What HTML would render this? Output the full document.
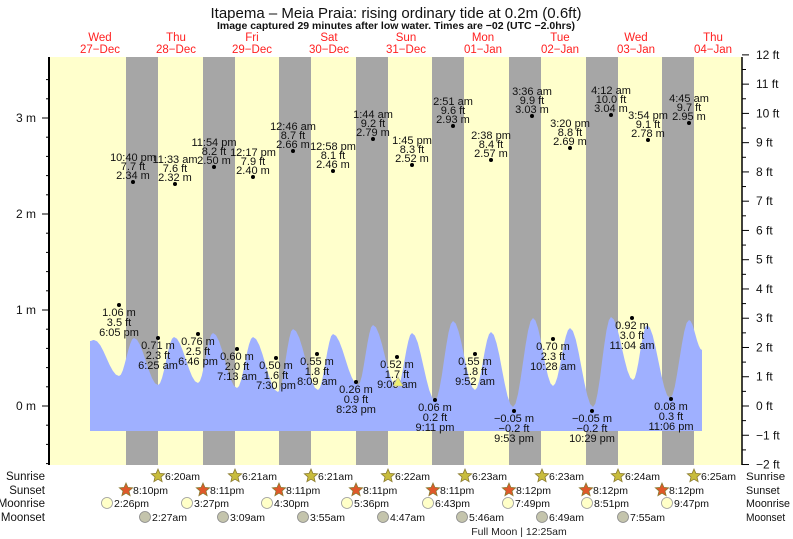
<!DOCTYPE html>
<html><head><meta charset="utf-8"><style>
html,body{margin:0;padding:0;background:#fff;}
svg{display:block;font-family:"Liberation Sans",Arial,sans-serif;}
</style></head><body>
<svg id="s" width="793" height="539" viewBox="0 0 793 539" xmlns="http://www.w3.org/2000/svg">
<rect x="0" y="0" width="793" height="539" fill="#fff"/>
<rect x="49" y="57" width="693" height="408" fill="#ffffcc"/>
<g id="bands" fill="#a6a6a6"></g>
<path id="tide" fill="#9fb0ff"/>
<g id="axes" stroke="#000" fill="none"></g>
<g id="txt" font-size="11" fill="#111"></g>
<text x="396" y="18" font-size="15" text-anchor="middle" fill="#111">Itapema – Meia Praia: rising  ordinary tide at 0.2m (0.6ft)</text>
<text x="396" y="29" font-size="10.5" font-weight="bold" text-anchor="middle" fill="#111">Image captured 29 minutes after low water. Times are −02 (UTC −2.0hrs)</text>
<text x="519" y="535" font-size="10.5" text-anchor="middle" fill="#222">Full Moon | 12:25am</text>
<polygon points="398,377 393,386 403,386" fill="#f0f070" stroke="#aaa" stroke-width="0.6"/>
</svg>
<script>
const NS="http://www.w3.org/2000/svg";
function el(p,t,a,txt){const e=document.createElementNS(NS,t);for(const k in a)e.setAttribute(k,a[k]);if(txt!==undefined)e.textContent=txt;p.appendChild(e);return e;}
const bands=document.getElementById('bands'),axes=document.getElementById('axes'),T=document.getElementById('txt');
[126,203,279,356,432,509,586,662].forEach(x=>el(bands,'rect',{x:x,y:57,width:32,height:408}));
const ext=[[90,341],[94,340],[119,376],[134,338],[158,385],[174,337],[198,383],[213,333],[237,388],[253,337],[278,392],[293,329],[318,390],[333,334],[358,385],[373,325],[397,388],[412,333],[435,400],[453,321],[475,390],[491,332],[513,407],[533,318],[553,386],[570,328],[593,407],[611,317],[633,380],[647,325],[670,398],[689,320],[702,350]];
let d="M90,431 L90,341";
for(let i=0;i<ext.length-1;i++){const [x0,y0]=ext[i],[x1,y1]=ext[i+1];for(let s=1;s<=8;s++){const t=s/8;const x=x0+(x1-x0)*t;const y=y0+(y1-y0)*(1-Math.cos(Math.PI*t))/2;d+=` L${x.toFixed(1)},${y.toFixed(1)}`;}}
d+=" L702,431 Z";document.getElementById('tide').setAttribute('d',d);
el(axes,'line',{x1:49,y1:57,x2:49,y2:465,'stroke-width':2});
el(axes,'line',{x1:742,y1:57,x2:742,y2:465,'stroke-width':1.5});
for(let v=-0.6;v<=3.6;v+=0.2){const y=406-96*v;if(y<56||y>466)continue;const maj=Math.abs(v-Math.round(v))<0.01;el(axes,'line',{x1:maj?42:46,y1:y,x2:49,y2:y});
 if(maj)el(T,'text',{x:36,y:y+4,'text-anchor':'end','font-size':12},Math.round(v)+' m');}
for(let f=-2;f<=12;f+=0.5){const y=406-29.26*f;const maj=f%1===0;el(axes,'line',{x1:742,y1:y,x2:maj?749:746,y2:y});
 if(maj)el(T,'text',{x:756,y:y+4,'font-size':12},(f<0?'−'+(-f):f)+' ft');}
[["Wed","27−Dec",100],["Thu","28−Dec",176],["Fri","29−Dec",252],["Sat","30−Dec",329],["Sun","31−Dec",406],["Mon","01−Jan",483],["Tue","02−Jan",560],["Wed","03−Jan",636],["Thu","04−Jan",713]].forEach(a=>{el(T,'text',{x:a[2],y:41,'text-anchor':'middle',fill:'#ff2020','font-size':11.5},a[0]);el(T,'text',{x:a[2],y:53,'text-anchor':'middle',fill:'#ff2020','font-size':11.5},a[1]);});
[[133,182,"10:40 pm","7.7 ft","2.34 m"],[175,184,"11:33 am","7.6 ft","2.32 m"],[214,167,"11:54 pm","8.2 ft","2.50 m"],[253,177,"12:17 pm","7.9 ft","2.40 m"],[293,151,"12:46 am","8.7 ft","2.66 m"],[333,171,"12:58 pm","8.1 ft","2.46 m"],[373,139,"1:44 am","9.2 ft","2.79 m"],[412,165,"1:45 pm","8.3 ft","2.52 m"],[453,126,"2:51 am","9.6 ft","2.93 m"],[491,160,"2:38 pm","8.4 ft","2.57 m"],[532,116,"3:36 am","9.9 ft","3.03 m"],[570,148,"3:20 pm","8.8 ft","2.69 m"],[611,115,"4:12 am","10.0 ft","3.04 m"],[648,140,"3:54 pm","9.1 ft","2.78 m"],[689,123,"4:45 am","9.7 ft","2.95 m"]].forEach(a=>{const [x,y]=a;el(T,'circle',{cx:x,cy:y,r:2,fill:'#000'});
 el(T,'text',{x:x,y:y-21,'text-anchor':'middle'},a[2]);el(T,'text',{x:x,y:y-12,'text-anchor':'middle'},a[3]);el(T,'text',{x:x,y:y-3,'text-anchor':'middle'},a[4]);});
[[119,305,"1.06 m","3.5 ft","6:05 pm"],[158,338,"0.71 m","2.3 ft","6:25 am"],[198,334,"0.76 m","2.5 ft","6:46 pm"],[237,349,"0.60 m","2.0 ft","7:13 am"],[276,358,"0.50 m","1.6 ft","7:30 pm"],[317,354,"0.55 m","1.8 ft","8:09 am"],[356,382,"0.26 m","0.9 ft","8:23 pm"],[397,357,"0.52 m","1.7 ft","9:06 am"],[435,400,"0.06 m","0.2 ft","9:11 pm"],[475,354,"0.55 m","1.8 ft","9:52 am"],[514,411,"−0.05 m","−0.2 ft","9:53 pm"],[553,339,"0.70 m","2.3 ft","10:28 am"],[592,411,"−0.05 m","−0.2 ft","10:29 pm"],[632,318,"0.92 m","3.0 ft","11:04 am"],[671,399,"0.08 m","0.3 ft","11:06 pm"]].forEach(a=>{const [x,y]=a;el(T,'circle',{cx:x,cy:y,r:2,fill:'#000'});
 el(T,'text',{x:x,y:y+11,'text-anchor':'middle'},a[2]);el(T,'text',{x:x,y:y+21,'text-anchor':'middle'},a[3]);el(T,'text',{x:x,y:y+31,'text-anchor':'middle'},a[4]);});
[["Sunrise",480],["Sunset",494],["Moonrise",507],["Moonset",521]].forEach(r=>{el(T,'text',{x:45,y:r[1],'text-anchor':'end','font-size':11.5},r[0]);el(T,'text',{x:746,y:r[1],'font-size':11,'textLength':r[0].length*5.6>44?44:r[0].length*5.6,'lengthAdjust':'spacingAndGlyphs'},r[0]);});
function star(x,y,fill){let p=[];for(let i=0;i<10;i++){const r=i%2?3.2:7;const a=-Math.PI/2+i*Math.PI/5;p.push((x+r*Math.cos(a)).toFixed(1)+','+(y+r*Math.sin(a)).toFixed(1));}el(T,'polygon',{points:p.join(' '),fill:fill,stroke:'#8a7a30','stroke-width':0.8});}
[[158,"6:20am"],[235,"6:21am"],[311,"6:21am"],[388,"6:22am"],[465,"6:23am"],[542,"6:23am"],[618,"6:24am"],[694,"6:25am"]].forEach(a=>{star(a[0],476,'#c8bc3c');el(T,'text',{x:a[0]+7,y:480,'font-size':10.5},a[1]);});
[[126,"8:10pm"],[203,"8:11pm"],[279,"8:11pm"],[356,"8:11pm"],[433,"8:11pm"],[509,"8:12pm"],[586,"8:12pm"],[662,"8:12pm"]].forEach(a=>{star(a[0],490,'#e0582a');el(T,'text',{x:a[0]+7,y:494,'font-size':10.5},a[1]);});
[[107,"2:26pm"],[187,"3:27pm"],[267,"4:30pm"],[347,"5:36pm"],[428,"6:43pm"],[508,"7:49pm"],[587,"8:51pm"],[667,"9:47pm"]].forEach(a=>{el(T,'circle',{cx:a[0],cy:503,r:5.5,fill:'#ffffc8',stroke:'#999','stroke-width':0.8});el(T,'text',{x:a[0]+7,y:507,'font-size':10.5},a[1]);});
[[145,"2:27am"],[223,"3:09am"],[303,"3:55am"],[383,"4:47am"],[462,"5:46am"],[542,"6:49am"],[623,"7:55am"]].forEach(a=>{el(T,'circle',{cx:a[0],cy:517,r:5.5,fill:'#c4c4ac',stroke:'#888','stroke-width':0.8});el(T,'text',{x:a[0]+7,y:521,'font-size':10.5},a[1]);});
</script>
</body></html>
